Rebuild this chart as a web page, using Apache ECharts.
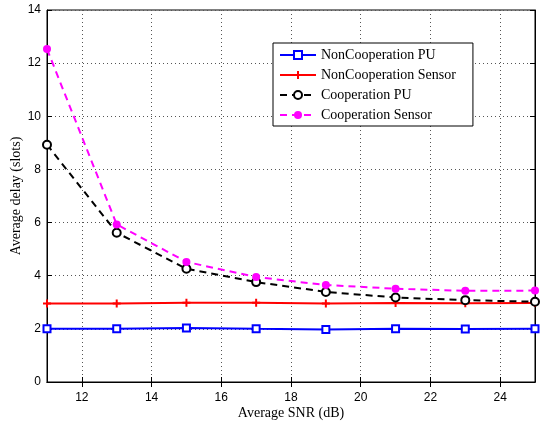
<!DOCTYPE html>
<html><head><meta charset="utf-8">
<script src="https://cdn.jsdelivr.net/npm/echarts@6/dist/echarts.min.js"></script>
<style>html,body{margin:0;padding:0;background:#fff}#c{width:540px;height:423px}</style>
</head><body><div id="c"></div>
<script>
const snr = [11, 13, 15, 17, 19, 21, 23, 25];
const nonCoopPU = [2.0, 2.0, 2.03, 2.0, 1.98, 2.0, 1.99, 2.0];
const nonCoopSensor = [2.95, 2.95, 2.98, 2.98, 2.95, 2.97, 2.96, 2.97];
const coopPU = [8.93, 5.62, 4.26, 3.76, 3.39, 3.18, 3.08, 3.02];
const coopSensor = [12.53, 5.93, 4.52, 3.95, 3.65, 3.51, 3.43, 3.44];
const xTicks = [12, 14, 16, 18, 20, 22, 24];
const names = ['NonCooperation PU', 'NonCooperation Sensor', 'Cooperation PU', 'Cooperation Sensor'];

const pair = arr => snr.map((x, i) => [x, arr[i]]);
const plus = 'path://M5,0L5,10M0,5L10,5';
const chart = echarts.init(document.getElementById('c'));
const gridLine = {show: true, lineStyle: {color: '#555', type: [1, 3], width: 1}};
chart.setOption({
  animation: false,
  backgroundColor: '#fff',
  grid: {left: 47, right: 5, top: 10, bottom: 41, show: true, borderColor: '#000', borderWidth: 1,
         containLabel: false, outerBoundsMode: 'none'},
  legend: {
    data: names, orient: 'vertical', left: 273, top: 43,
    itemWidth: 36, itemHeight: 10, itemGap: 6,
    padding: [5, 17, 4, 6],
    backgroundColor: '#fff', borderColor: '#000', borderWidth: 1,
    textStyle: {fontFamily: 'Liberation Serif', fontSize: 14, color: '#000'}
  },
  xAxis: [{
    type: 'value', min: 11, max: 25,
    axisLine: {show: true, lineStyle: {color: '#000'}},
    axisTick: {show: true, inside: true, length: 5, customValues: xTicks, lineStyle: {color: '#000'}},
    axisLabel: {customValues: xTicks, color: '#000', fontFamily: 'Liberation Sans', fontSize: 12, margin: 10},
    splitLine: gridLine,
    name: 'Average SNR (dB)', nameLocation: 'middle', nameGap: 24, nameMoveOverlap: false,
    nameTextStyle: {fontFamily: 'Liberation Serif', fontSize: 14, color: '#000'}
  }, {
    type: 'value', min: 11, max: 25, position: 'top',
    axisLine: {show: true, lineStyle: {color: '#000'}},
    axisTick: {show: true, inside: true, length: 5, customValues: xTicks, lineStyle: {color: '#000'}},
    axisLabel: {show: false}, splitLine: {show: false}
  }],
  yAxis: [{
    type: 'value', min: 0, max: 14, interval: 2,
    axisLine: {show: true, lineStyle: {color: '#000'}},
    axisTick: {show: true, inside: true, length: 5, lineStyle: {color: '#000'}},
    axisLabel: {color: '#000', fontFamily: 'Liberation Sans', fontSize: 12, margin: 6},
    splitLine: gridLine,
    name: 'Average delay (slots)', nameLocation: 'middle', nameGap: 24, nameMoveOverlap: false,
    nameTextStyle: {fontFamily: 'Liberation Serif', fontSize: 14, color: '#000'}
  }, {
    type: 'value', min: 0, max: 14, interval: 2, position: 'right',
    axisLine: {show: true, lineStyle: {color: '#000'}},
    axisTick: {show: true, inside: true, length: 5, lineStyle: {color: '#000'}},
    axisLabel: {show: false}, splitLine: {show: false}
  }],
  series: [
    {name: names[0], type: 'line', data: pair(nonCoopPU), color: '#0000ff',
     symbol: 'emptyRect', symbolSize: 7, lineStyle: {width: 2, color: '#0000ff'},
     itemStyle: {color: '#0000ff', borderColor: '#0000ff', borderWidth: 2}},
    {name: names[1], type: 'line', data: pair(nonCoopSensor), color: '#ff0000',
     symbol: plus, symbolSize: 8, lineStyle: {width: 2, color: '#ff0000'},
     itemStyle: {color: 'none', borderColor: '#ff0000', borderWidth: 2}},
    {name: names[2], type: 'line', data: pair(coopPU), color: '#000',
     symbol: 'emptyCircle', symbolSize: 8, lineStyle: {width: 2, color: '#000', type: [7, 5]},
     itemStyle: {color: '#000', borderColor: '#000', borderWidth: 2}},
    {name: names[3], type: 'line', data: pair(coopSensor), color: '#ff00ff',
     symbol: 'circle', symbolSize: 8, lineStyle: {width: 2, color: '#ff00ff', type: [7, 5]},
     itemStyle: {color: '#ff00ff'}}
  ]
});
</script></body></html>
